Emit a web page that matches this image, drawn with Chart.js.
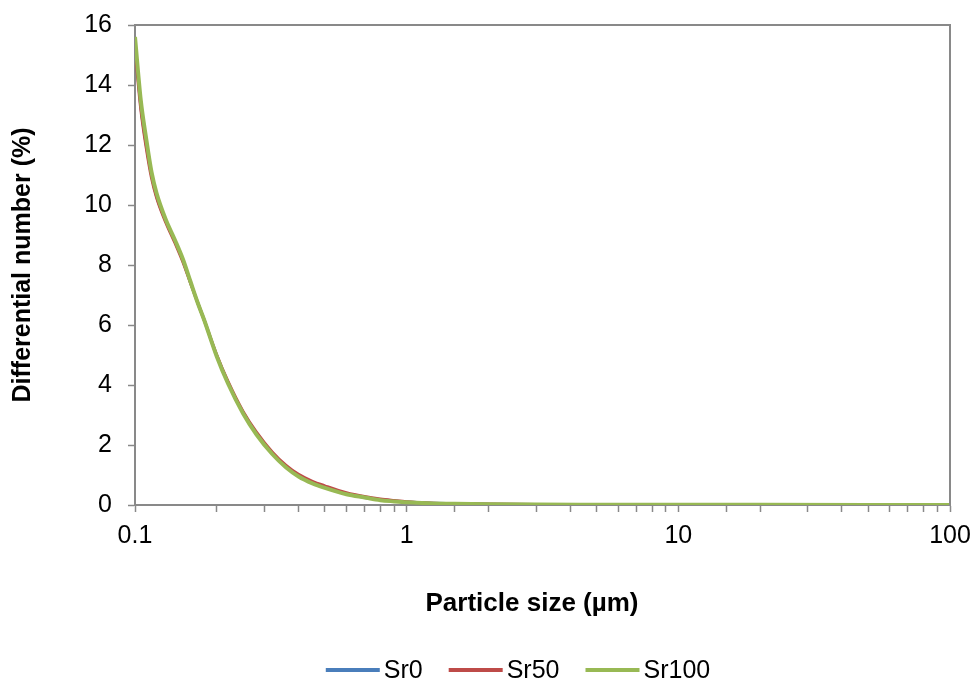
<!DOCTYPE html>
<html>
<head>
<meta charset="utf-8">
<script src="https://cdn.jsdelivr.net/npm/chart.js@4.4.1/dist/chart.umd.min.js"></script>
<style>
  html, body { margin: 0; padding: 0; background: #fff; }
  #wrap { width: 976px; height: 683px; }
</style>
</head>
<body>
<div id="wrap"><canvas id="psd"></canvas></div>
<script>
// particle size bins (µm)
const sizes = [0.1, 0.105, 0.11, 0.115, 0.12, 0.13, 0.14, 0.15, 0.16, 0.17, 0.18, 0.2, 0.22, 0.25, 0.28, 0.32, 0.36, 0.4, 0.45, 0.5, 0.6, 0.7, 0.8, 0.9, 1, 1.2, 1.5, 2, 3, 5, 10, 20, 50, 100];

// differential number (%)
const sr0 = [15.4, 13.3, 12.0, 11.0, 10.3, 9.45, 8.8, 8.15, 7.42, 6.75, 6.15, 4.97, 4.08, 3.08, 2.39, 1.73, 1.28, 0.98, 0.75, 0.6, 0.38, 0.25, 0.18, 0.13, 0.1, 0.065, 0.042, 0.028, 0.016, 0.011, 0.008, 0.005, 0.003, 0.002];
const sr50 = [15.2, 13.2, 11.9, 10.9, 10.25, 9.4, 8.75, 8.1, 7.4, 6.75, 6.15, 5.0, 4.12, 3.12, 2.43, 1.77, 1.32, 1.02, 0.79, 0.64, 0.41, 0.28, 0.2, 0.15, 0.11, 0.07, 0.045, 0.03, 0.018, 0.012, 0.009, 0.006, 0.003, 0.002];
const sr100 = [15.6, 13.5, 12.2, 11.1, 10.4, 9.5, 8.85, 8.2, 7.45, 6.75, 6.15, 4.95, 4.05, 3.05, 2.35, 1.7, 1.25, 0.95, 0.72, 0.57, 0.36, 0.25, 0.16, 0.12, 0.09, 0.06, 0.04, 0.025, 0.015, 0.01, 0.008, 0.005, 0.003, 0.002];

const seriesNames = ['Sr0', 'Sr50', 'Sr100'];
const seriesColors = ['#4a7ebb', '#be4b48', '#98b954'];
const seriesValues = [sr0, sr50, sr100];
const yTicks = [0, 2, 4, 6, 8, 10, 12, 14, 16];
const xLabels = [0.1, 1, 10, 100];
const xTitle = 'Particle size (µm)';

const axisGrey = '#898989';
const font = 'Arial, "Liberation Sans", sans-serif';

// top/right frame, x title and legend
const frame = {
  id: 'frame',
  afterDraw(chart) {
    const { ctx, chartArea: a } = chart;
    ctx.save();
    ctx.strokeStyle = axisGrey;
    ctx.lineWidth = 2;
    ctx.beginPath();
    ctx.moveTo(a.left, a.top);
    ctx.lineTo(a.right, a.top);
    ctx.lineTo(a.right, a.bottom);
    ctx.stroke();

    ctx.fillStyle = '#000';
    ctx.textBaseline = 'middle';
    ctx.textAlign = 'center';
    ctx.font = 'bold 26px ' + font;
    ctx.fillText(xTitle, 532, 604);

    // legend
    ctx.textAlign = 'left';
    ctx.font = '25px ' + font;
    const lineLen = 54, gap = 4, itemGap = 26, y = 670;
    let total = 0;
    seriesNames.forEach((n, i) => {
      total += lineLen + gap + ctx.measureText(n).width;
      if (i < seriesNames.length - 1) total += itemGap;
    });
    let x = 518 - total / 2;
    seriesNames.forEach((n, i) => {
      ctx.strokeStyle = seriesColors[i];
      ctx.lineWidth = 4;
      ctx.beginPath();
      ctx.moveTo(x, y);
      ctx.lineTo(x + lineLen, y);
      ctx.stroke();
      x += lineLen + gap;
      ctx.fillText(n, x, y + 1);
      x += ctx.measureText(n).width + itemGap;
    });
    ctx.restore();
  }
};

const datasets = seriesNames.map((name, i) => ({
  label: name,
  data: sizes.map((s, k) => ({ x: s, y: seriesValues[i][k] })),
  borderColor: seriesColors[i],
  backgroundColor: seriesColors[i],
  borderWidth: i === 2 ? 4 : 3,
  pointRadius: 0,
  cubicInterpolationMode: 'monotone',
  order: seriesNames.length - i
}));

new Chart(document.getElementById('psd'), {
  type: 'line',
  data: { datasets },
  options: {
    responsive: true,
    maintainAspectRatio: false,
    animation: false,
    layout: { padding: { left: 0, top: 25, right: 26, bottom: 64 } },
    plugins: { legend: { display: false }, tooltip: { enabled: false } },
    scales: {
      x: {
        type: 'logarithmic',
        min: 0.1,
        max: 100,
        afterFit(scale) {
          scale.height = 114;
          scale.paddingLeft = 0;
          scale.paddingRight = 0;
        },
        border: { color: axisGrey, width: 2 },
        grid: { drawOnChartArea: false, tickLength: 7, tickColor: axisGrey, tickWidth: 1.5 },
        ticks: {
          autoSkip: false,
          maxRotation: 0,
          padding: 9,
          color: '#000',
          font: { family: font, size: 25 },
          callback(v) {
            const hit = xLabels.find(t => Math.abs(Math.log10(v) - Math.log10(t)) < 1e-6);
            return hit === undefined ? '' : String(hit);
          }
        }
      },
      y: {
        min: 0,
        max: 16,
        afterFit(scale) {
          scale.width = 135;
          scale.paddingTop = 0;
          scale.paddingBottom = 0;
        },
        afterBuildTicks(scale) { scale.ticks = yTicks.map(v => ({ value: v })); },
        border: { color: axisGrey, width: 2 },
        grid: { drawOnChartArea: false, tickLength: 7, tickColor: axisGrey, tickWidth: 1.5 },
        ticks: {
          padding: 16,
          color: '#000',
          font: { family: font, size: 25 }
        },
        title: {
          display: true,
          text: 'Differential number (%)',
          color: '#000',
          font: { family: font, size: 25, weight: 'bold' },
          padding: { top: 8, bottom: 0 }
        }
      }
    }
  },
  plugins: [frame]
});
</script>
</body>
</html>
